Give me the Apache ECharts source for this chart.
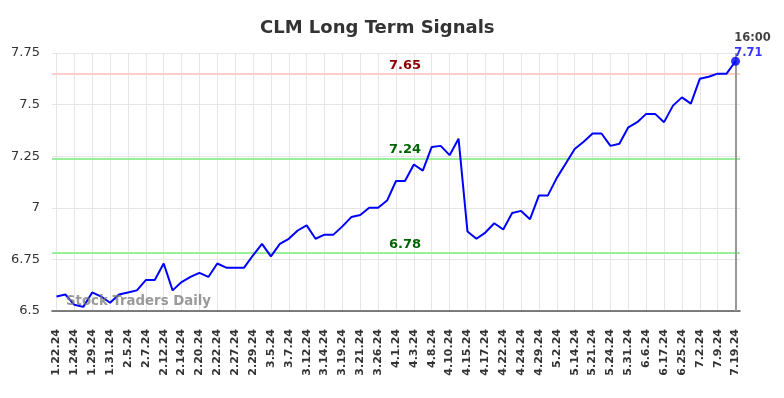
<!DOCTYPE html>
<html>
<head>
<meta charset="utf-8">
<script src="https://cdn.jsdelivr.net/npm/echarts@6/dist/echarts.min.js"></script>
<style>
  html, body { margin: 0; padding: 0; background: #fff; }
  #chart { width: 784px; height: 398px; }
</style>
</head>
<body>
<div id="chart"></div>
<script>
const dates = [
    "1.22.24", "1.23.24", "1.24.24", "1.26.24", "1.29.24", "1.30.24", "1.31.24", "2.2.24",
    "2.5.24", "2.6.24", "2.7.24", "2.9.24", "2.12.24", "2.13.24", "2.14.24", "2.16.24",
    "2.20.24", "2.21.24", "2.22.24", "2.26.24", "2.27.24", "2.28.24", "2.29.24", "3.1.24",
    "3.5.24", "3.6.24", "3.7.24", "3.8.24", "3.12.24", "3.13.24", "3.14.24", "3.15.24",
    "3.19.24", "3.20.24", "3.21.24", "3.22.24", "3.26.24", "3.28.24", "4.1.24", "4.2.24",
    "4.3.24", "4.5.24", "4.8.24", "4.9.24", "4.10.24", "4.12.24", "4.15.24", "4.16.24",
    "4.17.24", "4.19.24", "4.22.24", "4.23.24", "4.24.24", "4.26.24", "4.29.24", "4.30.24",
    "5.2.24", "5.8.24", "5.14.24", "5.17.24", "5.21.24", "5.22.24", "5.24.24", "5.29.24",
    "5.31.24", "6.3.24", "6.6.24", "6.12.24", "6.17.24", "6.20.24", "6.25.24", "6.28.24",
    "7.2.24", "7.5.24", "7.9.24", "7.15.24", "7.19.24"
];

const prices = [
    6.57, 6.58, 6.53, 6.52, 6.59, 6.57, 6.54, 6.58, 6.59, 6.60,
    6.65, 6.65, 6.73, 6.60, 6.64, 6.665, 6.685, 6.665, 6.73, 6.71,
    6.71, 6.71, 6.77, 6.825, 6.765, 6.825, 6.85, 6.89, 6.915, 6.85,
    6.87, 6.87, 6.91, 6.955, 6.965, 7.0, 7.0, 7.035, 7.13, 7.13,
    7.21, 7.18, 7.295, 7.30, 7.255, 7.335, 6.885, 6.85, 6.88, 6.925,
    6.895, 6.975, 6.985, 6.945, 7.06, 7.06, 7.145, 7.215, 7.285, 7.32,
    7.36, 7.36, 7.30, 7.31, 7.39, 7.415, 7.455, 7.455, 7.415, 7.495,
    7.535, 7.505, 7.625, 7.635, 7.65, 7.65, 7.71
];

const yTicks = [6.5, 6.75, 7, 7.25, 7.5, 7.75];

const signalLevels = [7.65, 7.24, 6.78];
const signalLineColors = ["#ffcccc", "#99ee99", "#99ee99"];
const signalTextColors = ["#8b0000", "#006400", "#006400"];

const lastTime = "16:00";

var chart = echarts.init(document.getElementById('chart'));

const lastIdx = prices.length - 1;
const fontFam = "DejaVu Sans";

chart.setOption({
    animation: false,
    textStyle: { fontFamily: fontFam },
    title: {
        text: "CLM Long Term Signals",
        left: 255,
        top: 14,
        textStyle: {
            fontFamily: fontFam,
            fontSize: 18,
            fontWeight: "bold",
            color: "#333"
        }
    },
    grid: {
        left: 52,
        right: 44,
        top: 53,
        bottom: 87
    },
    graphic: [
        {
            type: "text",
            left: 66,
            top: 295,
            z: 100,
            style: {
                text: "Stock Traders Daily",
                fontFamily: fontFam,
                fontSize: 13.3,
                fontWeight: "bold",
                fill: "rgba(120,120,120,0.75)"
            }
        }
    ],
    xAxis: {
        type: "category",
        data: dates,
        boundaryGap: true,
        axisLine: { lineStyle: { color: "#555", width: 1.5 } },
        axisTick: { show: false },
        axisLabel: {
            interval: 1,
            rotate: 90,
            margin: 18,
            fontSize: 11,
            fontWeight: "bold",
            color: "#333",
            fontFamily: fontFam
        },
        splitLine: {
            show: true,
            interval: 1,
            alignWithLabel: true,
            lineStyle: { color: "#e6e6e6", width: 1 }
        }
    },
    yAxis: {
        type: "value",
        min: yTicks[0],
        max: yTicks[yTicks.length - 1],
        interval: 0.25,
        axisLine: { show: false },
        axisTick: { show: false },
        axisLabel: {
            fontSize: 13,
            color: "#333",
            margin: 12,
            fontFamily: fontFam
        },
        splitLine: { lineStyle: { color: "#e6e6e6", width: 1 } }
    },
    series: [
        {
            type: "line",
            data: prices,
            showSymbol: false,
            lineStyle: { color: "#0000ff", width: 2 },
            z: 5,
            markLine: {
                silent: true,
                symbol: "none",
                data: signalLevels.map((v, i) => ({
                    yAxis: v,
                    lineStyle: { color: signalLineColors[i], width: 2, type: "solid" },
                    label: {
                        show: true,
                        position: "middle",
                        formatter: String(v),
                        color: signalTextColors[i],
                        fontSize: 13,
                        fontWeight: "bold",
                        fontFamily: fontFam,
                        padding: [0, 0, 0, 18],
                        distance: 2
                    }
                })).concat([{
                    xAxis: dates[lastIdx],
                    lineStyle: { color: "#999", width: 2, type: "solid" },
                    label: { show: false }
                }])
            }
        },
        {
            type: "scatter",
            data: [[dates[lastIdx], prices[lastIdx]]],
            symbol: "circle",
            symbolSize: 9,
            itemStyle: { color: "#0000ff" },
            z: 6,
            label: {
                show: true,
                position: "top",
                offset: [17, 9],
                align: "center",
                formatter: "{t|" + lastTime + "}\n{v|" + prices[lastIdx] + "}",
                rich: {
                    t: { color: "#111", fontSize: 11.5, fontWeight: "bold", fontFamily: fontFam, lineHeight: 15, align: "left" },
                    v: { color: "#0000ff", fontSize: 11.5, fontWeight: "bold", fontFamily: fontFam, lineHeight: 15, align: "left" }
                }
            }
        }
    ]
});

window.addEventListener("resize", () => {
    if (chart) chart.resize();
});
</script>
</body>
</html>
